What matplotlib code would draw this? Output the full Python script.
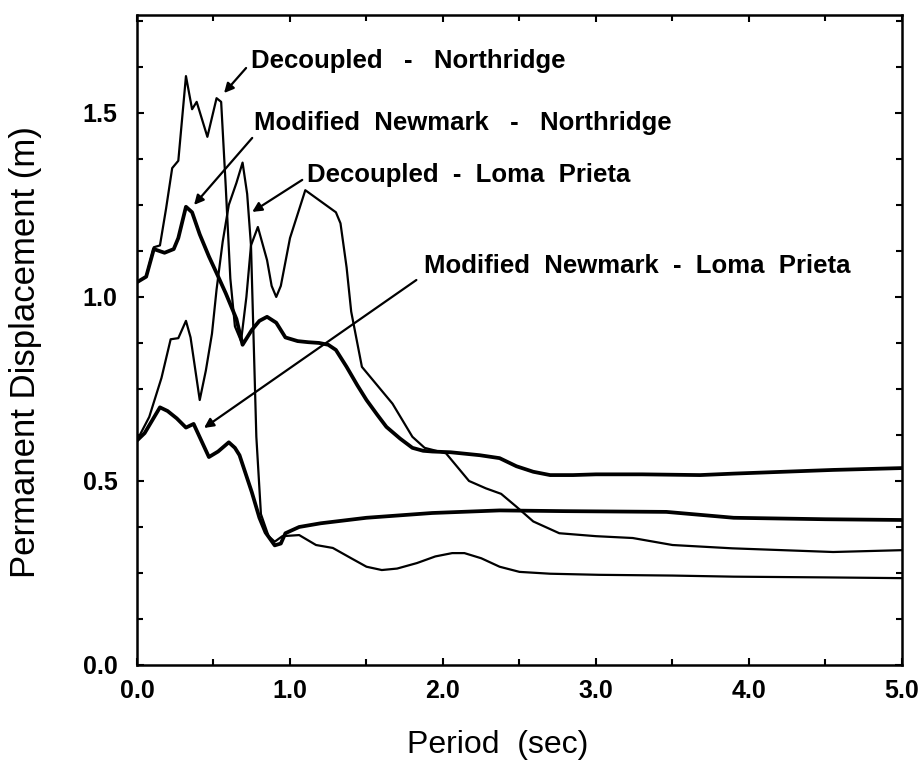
import matplotlib
matplotlib.use("Agg")
import matplotlib.pyplot as plt
from matplotlib.ticker import MultipleLocator

plt.rcParams['font.family'] = ['Liberation Sans', 'DejaVu Sans']

# ---- data (period in sec, permanent displacement in m) ----
mn_north_x = [0, 0.06, 0.11, 0.18, 0.24, 0.27, 0.32, 0.36, 0.41, 0.47, 0.52, 0.58, 0.65, 0.69,
              0.75, 0.80, 0.85, 0.91, 0.97, 1.05, 1.12, 1.19, 1.25, 1.30, 1.37, 1.44, 1.50, 1.57,
              1.63, 1.72, 1.80, 1.87, 1.93, 2.05, 2.24, 2.37, 2.48, 2.59, 2.70, 2.85, 3.0, 3.3,
              3.68, 3.9, 4.55, 5.0]
mn_north_y = [1.04, 1.055, 1.13, 1.12, 1.13, 1.16, 1.245, 1.23, 1.17, 1.11, 1.065, 1.01, 0.94, 0.87,
              0.91, 0.935, 0.946, 0.93, 0.89, 0.88, 0.877, 0.875, 0.87, 0.856, 0.81, 0.76, 0.72, 0.68,
              0.647, 0.615, 0.59, 0.582, 0.58, 0.578, 0.57, 0.562, 0.54, 0.525, 0.516, 0.516, 0.518, 0.518,
              0.516, 0.52, 0.53, 0.535]

dec_north_x = [0, 0.06, 0.11, 0.15, 0.19, 0.23, 0.27, 0.32, 0.36, 0.39, 0.46, 0.52, 0.55, 0.58,
               0.61, 0.64, 0.68, 0.715, 0.745, 0.79, 0.85, 0.88, 0.91, 0.94, 1.0, 1.1, 1.3, 1.33,
               1.37, 1.40, 1.47, 1.57, 1.67, 1.8, 1.88, 2.02, 2.17, 2.28, 2.38, 2.48, 2.59, 2.76,
               3.0, 3.24, 3.5, 3.89, 4.55, 5.0]
dec_north_y = [1.04, 1.055, 1.135, 1.14, 1.24, 1.35, 1.37, 1.60, 1.51, 1.53, 1.435, 1.54, 1.53, 1.30,
               1.05, 0.92, 0.88, 1.0, 1.14, 1.19, 1.10, 1.03, 1.0, 1.03, 1.16, 1.29, 1.23, 1.20,
               1.08, 0.96, 0.81, 0.76, 0.71, 0.62, 0.59, 0.575, 0.50, 0.48, 0.465, 0.43, 0.39, 0.358,
               0.35, 0.345, 0.326, 0.317, 0.307, 0.312]

dec_loma_x = [0, 0.08, 0.16, 0.22, 0.27, 0.32, 0.35, 0.41, 0.45, 0.49, 0.52, 0.56, 0.60, 0.65,
              0.69, 0.72, 0.745, 0.78, 0.81, 0.86, 0.90, 0.95, 1.06, 1.17, 1.28, 1.4, 1.5, 1.6,
              1.7, 1.83, 1.95, 2.06, 2.14, 2.25, 2.37, 2.5, 2.7, 3.02, 3.5, 3.9, 4.5, 5.0]
dec_loma_y = [0.61, 0.674, 0.78, 0.885, 0.888, 0.935, 0.89, 0.72, 0.80, 0.90, 1.02, 1.15, 1.25, 1.31,
              1.365, 1.28, 1.14, 0.62, 0.41, 0.35, 0.335, 0.35, 0.353, 0.326, 0.318, 0.29, 0.267, 0.258,
              0.262, 0.277, 0.295, 0.304, 0.304, 0.29, 0.267, 0.253, 0.248, 0.245, 0.243, 0.24, 0.238, 0.236]

mn_loma_x = [0, 0.05, 0.10, 0.15, 0.20, 0.26, 0.32, 0.37, 0.42, 0.47, 0.53, 0.60, 0.64, 0.67,
             0.71, 0.75, 0.80, 0.84, 0.90, 0.94, 0.97, 1.06, 1.2, 1.5, 1.93, 2.37, 2.8, 3.46,
             3.9, 4.5, 5.0]
mn_loma_y = [0.61, 0.63, 0.665, 0.70, 0.69, 0.67, 0.645, 0.655, 0.61, 0.565, 0.58, 0.605, 0.59, 0.57,
             0.52, 0.47, 0.40, 0.36, 0.325, 0.33, 0.358, 0.375, 0.385, 0.40, 0.413, 0.42, 0.418, 0.416,
             0.40, 0.396, 0.394]

labels = ["Decoupled   -   Northridge",
          "Modified  Newmark   -   Northridge",
          "Decoupled  -  Loma  Prieta",
          "Modified  Newmark  -  Loma  Prieta"]
label_pos = [(0.746, 1.622), (0.766, 1.454), (1.113, 1.313), (1.878, 1.065)]
arrow_start = [(0.713, 1.622), (0.753, 1.432), (1.08, 1.318), (1.826, 1.046)]
arrow_end = [(0.569, 1.554), (0.373, 1.25), (0.753, 1.231), (0.438, 0.644)]

xticks = [0, 1, 2, 3, 4, 5]
xticklabels = ["0.0", "1.0", "2.0", "3.0", "4.0", "5.0"]
yticks = [0.0, 0.5, 1.0, 1.5]
yticklabels = ["0.0", "0.5", "1.0", "1.5"]

# ---- figure ----
fig = plt.figure(figsize=(9.2, 7.69), dpi=100)
ax = fig.add_axes([137/920, 1 - 665/769, (902 - 137)/920, (665 - 15)/769])

thin = 1.6
thick = 2.7
ax.plot(dec_north_x, dec_north_y, color='black', lw=thin, solid_joinstyle='round')
ax.plot(mn_north_x, mn_north_y, color='black', lw=thick, solid_joinstyle='round')
ax.plot(dec_loma_x, dec_loma_y, color='black', lw=thin, solid_joinstyle='round')
ax.plot(mn_loma_x, mn_loma_y, color='black', lw=thick, solid_joinstyle='round')

for lab, pos, a0, a1 in zip(labels, label_pos, arrow_start, arrow_end):
    ax.text(pos[0], pos[1], lab, fontsize=18.5, fontweight='bold', ha='left', va='baseline')
    ax.annotate('', xy=a1, xytext=a0,
                arrowprops=dict(arrowstyle='-|>', color='black', lw=1.6,
                                mutation_scale=14, shrinkA=0, shrinkB=0))

ax.set_xlim(0, 5.0)
ax.set_ylim(0, 1.766)
ax.set_xticks(xticks)
ax.set_xticklabels(xticklabels)
ax.set_yticks(yticks)
ax.set_yticklabels(yticklabels)
ax.xaxis.set_minor_locator(MultipleLocator(0.5))
ax.yaxis.set_minor_locator(MultipleLocator(0.125))
ax.tick_params(which='both', direction='in', top=True, right=True, width=1.5)
ax.tick_params(which='major', length=5)
ax.tick_params(which='minor', length=4)
ax.tick_params(axis='x', which='major', pad=10, labelsize=18)
ax.tick_params(axis='y', which='major', pad=14, labelsize=18)
for lbl in ax.get_xticklabels() + ax.get_yticklabels():
    lbl.set_fontweight('bold')
for sp in ax.spines.values():
    sp.set_linewidth(1.8)

fig.text(26/920, 1 - 352/769, "Permanent Displacement (m)", rotation=90,
         ha='center', va='center', fontsize=25)
fig.text(498/920, 1 - 745/769, "Period  (sec)", ha='center', va='center', fontsize=23)

fig.savefig("out.png", dpi=100)
